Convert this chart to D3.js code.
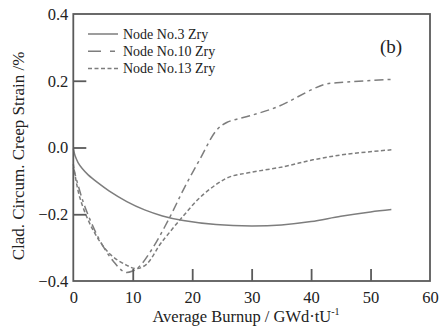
<!DOCTYPE html>
<html><head><meta charset="utf-8">
<script src="https://cdn.jsdelivr.net/npm/d3@7"></script>
<style>body{margin:0;background:#fff}svg{display:block}text{font-family:"Liberation Serif","Times New Roman",serif;fill:#222}</style>
</head><body><svg id="c" width="439" height="329"></svg>
<script>
const xTicks=[0,10,20,30,40,50,60];
const yTicks=[-0.4,-0.2,0.0,0.2,0.4];
const seriesNames=["Node No.3 Zry","Node No.10 Zry","Node No.13 Zry"];
const node3=[[0,-0.003],[0.3,-0.025],[0.8,-0.045],[1.5,-0.063],[2.5,-0.082],[4,-0.104],[6,-0.13],[9,-0.162],[12,-0.187],[15,-0.205],[18.5,-0.219],[24,-0.231],[30,-0.235],[35,-0.232],[40,-0.222],[45,-0.206],[50,-0.193],[53.5,-0.186]];
const node10=[[0,-0.06],[0.6,-0.1],[2,-0.18],[4.5,-0.28],[6.7,-0.34],[8.7,-0.374],[10,-0.37],[11.2,-0.355],[13.4,-0.30],[16.2,-0.21],[18.7,-0.12],[21.3,-0.035],[24.1,0.052],[25.8,0.075],[29.7,0.095],[34.5,0.123],[40.3,0.175],[42.5,0.19],[46,0.196],[53.5,0.204]];
const node13=[[0,-0.05],[1.1,-0.15],[3.4,-0.25],[6.2,-0.32],[9,-0.353],[10.6,-0.363],[12.3,-0.35],[14.6,-0.29],[15.7,-0.265],[18.5,-0.205],[21.3,-0.15],[24.1,-0.11],[26.3,-0.088],[29.7,-0.075],[35.5,-0.057],[40.3,-0.037],[46,-0.02],[53.5,-0.007]];
const svg=d3.select("#c");
const L=73.3,R=430,T=14,B=281;
const x=d3.scaleLinear().domain([0,60]).range([L,R]);
const y=d3.scaleLinear().domain([-0.4,0.4]).range([B,T]);
const col="#7d7d7d";
const styles=[{dash:null,ldash:null},{dash:"9,4,3,4",ldash:"13,9,5"},{dash:"4,2.5",ldash:"4,2.5"}];
const data=[node3,node10,node13];
const line=d3.line().x(d=>x(d[0])).y(d=>y(d[1])).curve(d3.curveCatmullRom.alpha(0.5));
data.forEach((d,i)=>{
  svg.append("path").attr("d",line(d)).attr("fill","none").attr("stroke",col).attr("stroke-width",1.5)
    .attr("stroke-dasharray",styles[i].dash);
});
svg.append("rect").attr("x",L).attr("y",T).attr("width",R-L).attr("height",B-T).attr("fill","none").attr("stroke","#5a5a5a").attr("stroke-width",1.8);
const xa=svg.append("g").attr("transform",`translate(0,${B})`).call(d3.axisBottom(x).tickValues(xTicks).tickSize(-12).tickPadding(10).tickFormat(d3.format("d")));
const ya=svg.append("g").attr("transform",`translate(${L},0)`).call(d3.axisLeft(y).tickValues(yTicks).tickSize(-13).tickPadding(5).tickFormat(d3.format(".1f")));
[xa,ya].forEach(a=>{a.select(".domain").remove();a.selectAll("line").attr("stroke","#5a5a5a").attr("stroke-width",1.8);a.selectAll("text").attr("font-size",16.5).style("font-family",'"Liberation Serif",serif').attr("fill","#222");});
xa.selectAll(".tick").filter(d=>d===0||d===60).select("line").remove();
ya.selectAll(".tick").filter(d=>d===-0.4||d===0.4).select("line").remove();
const xt=svg.append("text").attr("x",246).attr("y",322).attr("text-anchor","middle").attr("font-size",16.5);
xt.append("tspan").text("Average Burnup / GWd·tU");
xt.append("tspan").text("-1").attr("font-size",10).attr("dy",-7);
svg.append("text").attr("transform","translate(24,156) rotate(-90)").attr("text-anchor","middle").attr("font-size",17).text("Clad. Circum. Creep Strain /%");
svg.append("text").attr("x",380).attr("y",53).attr("font-size",19).text("(b)");
seriesNames.forEach((n,i)=>{
  const yy=34+i*17.3;
  svg.append("line").attr("x1",88).attr("x2",118).attr("y1",yy).attr("y2",yy).attr("stroke",col).attr("stroke-width",1.5).attr("stroke-dasharray",styles[i].ldash);
  svg.append("text").attr("x",123).attr("y",yy+4.5).attr("font-size",14).text(n);
});
</script></body></html>
